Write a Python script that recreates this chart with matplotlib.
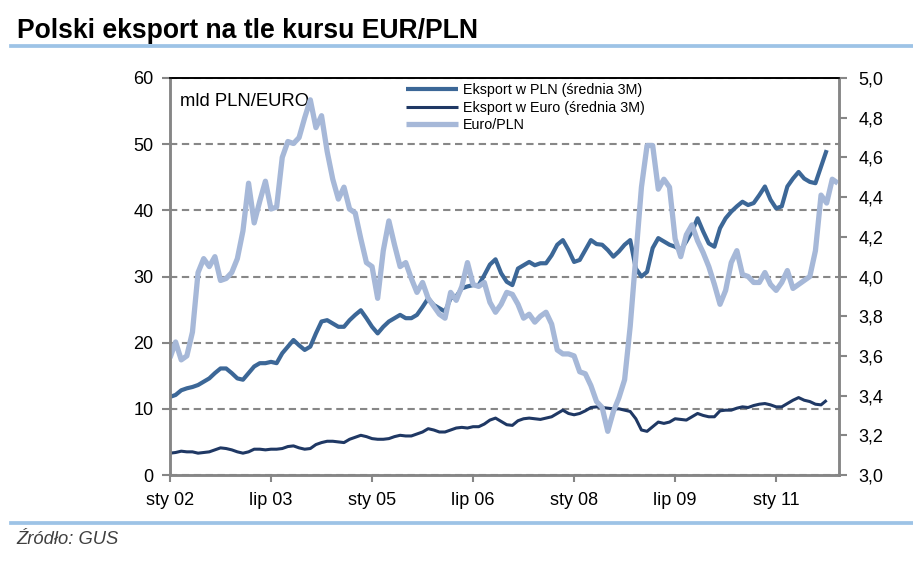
import matplotlib
matplotlib.use("Agg")
import matplotlib.pyplot as plt
from matplotlib.lines import Line2D
import numpy as np

plt.rcParams['font.family'] = ['Liberation Sans', 'DejaVu Sans']

# ---- data (monthly, starting Jan 2002) ----
tick_labels = ["sty 02", "lip 03", "sty 05", "lip 06", "sty 08", "lip 09", "sty 11"]
tick_months = [0, 18, 36, 54, 72, 90, 108]

export_pln = [11.8, 12.1, 12.8, 13.1, 13.3, 13.6, 14.1, 14.6, 15.4, 16.1,
              16.1, 15.4, 14.6, 14.4, 15.4, 16.4, 16.9, 16.9, 17.1, 16.9,
              18.4, 19.4, 20.4, 19.6, 18.9, 19.4, 21.4, 23.2, 23.4, 22.9,
              22.4, 22.4, 23.4, 24.2, 24.9, 23.7, 22.4, 21.4, 22.4, 23.2,
              23.7, 24.2, 23.7, 23.7, 24.2, 25.4, 26.7, 25.7, 25.2, 24.7,
              26.7, 27.0, 28.2, 28.5, 28.7, 28.7, 30.2, 31.8, 32.6, 30.5,
              29.2, 28.7, 31.2, 31.7, 32.2, 31.7, 32.0, 32.0, 33.2, 34.8,
              35.5, 34.0, 32.2, 32.5, 34.0, 35.5, 34.9, 34.8, 34.0, 33.0,
              33.8, 34.8, 35.5, 31.2, 30.0, 30.7, 34.3, 35.8, 35.3, 34.8,
              34.5, 34.0, 35.3, 36.8, 38.8, 36.8, 35.0, 34.5, 37.3, 38.8,
              39.8, 40.6, 41.3, 40.8, 41.1, 42.3, 43.6, 41.6, 40.3, 40.6,
              43.6, 44.8, 45.8, 44.8, 44.3, 44.1, 46.6, 49.1]

export_eur = [3.3, 3.4, 3.6, 3.5, 3.5, 3.3, 3.4, 3.5, 3.8, 4.1,
              4.0, 3.8, 3.5, 3.3, 3.5, 3.9, 3.9, 3.8, 3.9, 3.9,
              4.0, 4.3, 4.4, 4.1, 3.9, 4.0, 4.6, 4.9, 5.1, 5.1,
              5.0, 4.9, 5.4, 5.7, 6.0, 5.8, 5.5, 5.4, 5.4, 5.5,
              5.8, 6.0, 5.9, 5.9, 6.2, 6.5, 7.0, 6.8, 6.5, 6.5,
              6.8, 7.1, 7.2, 7.1, 7.3, 7.3, 7.7, 8.3, 8.6, 8.1,
              7.6, 7.5, 8.2, 8.5, 8.6, 8.5, 8.4, 8.6, 8.8, 9.3,
              9.8, 9.3, 9.1, 9.3, 9.7, 10.2, 10.3, 10.2, 10.1, 10.0,
              10.0, 9.8, 9.6, 8.5, 6.8, 6.6, 7.3, 8.0, 7.8, 8.0,
              8.5, 8.4, 8.3, 8.8, 9.3, 9.0, 8.8, 8.8, 9.7, 9.8,
              9.8, 10.1, 10.3, 10.2, 10.5, 10.7, 10.8, 10.6, 10.3, 10.3,
              10.8, 11.3, 11.7, 11.3, 11.1, 10.7, 10.6, 11.3]

eur_pln = [3.59, 3.67, 3.58, 3.60, 3.72, 4.02, 4.09, 4.05, 4.10, 3.98,
           3.99, 4.02, 4.09, 4.23, 4.47, 4.27, 4.38, 4.48, 4.34, 4.35,
           4.60, 4.68, 4.67, 4.70, 4.80, 4.89, 4.75, 4.81, 4.63, 4.49,
           4.39, 4.45, 4.34, 4.32, 4.19, 4.07, 4.05, 3.89, 4.13, 4.28,
           4.16, 4.05, 4.07, 3.99, 3.92, 3.97, 3.89, 3.85, 3.81, 3.79,
           3.92, 3.88, 3.95, 4.07, 3.96, 3.95, 3.97, 3.87, 3.82, 3.86,
           3.92, 3.91, 3.86, 3.79, 3.81, 3.77, 3.80, 3.82, 3.76, 3.63,
           3.61, 3.61, 3.60, 3.52, 3.51, 3.45, 3.37, 3.34, 3.22, 3.32,
           3.39, 3.48, 3.75, 4.10, 4.45, 4.66, 4.66, 4.44, 4.49, 4.45,
           4.19, 4.10, 4.21, 4.26, 4.18, 4.12, 4.05, 3.96, 3.86, 3.93,
           4.07, 4.13, 4.01, 4.00, 3.97, 3.97, 4.02, 3.96, 3.93, 3.97,
           4.03, 3.94, 3.96, 3.98, 4.00, 4.13, 4.41, 4.37, 4.49, 4.47]

labels = ["Eksport w PLN (średnia 3M)", "Eksport w Euro (średnia 3M)", "Euro/PLN"]
colors = ["#3C6797", "#1F3864", "#A6B8D8"]

# ---- figure ----
W, H = 913, 561
fig = plt.figure(figsize=(W / 100, H / 100), dpi=100)
ax = fig.add_axes([170 / W, 1 - 475 / H, 669 / W, 397 / H])
ax2 = ax.twinx()

x_exp = np.arange(len(export_pln))
x_fx = np.arange(len(eur_pln))

l1, = ax.plot(x_exp, export_pln, color=colors[0], lw=3.0, solid_joinstyle='round', solid_capstyle='butt')
l2, = ax.plot(x_exp, export_eur, color=colors[1], lw=2.2, solid_joinstyle='round', solid_capstyle='butt')
l3, = ax2.plot(x_fx, eur_pln, color=colors[2], lw=3.8, solid_joinstyle='round', solid_capstyle='butt')

ax.set_xlim(0, 119.2)
ax.set_ylim(0, 60)
ax2.set_ylim(3.0, 5.0)

ax.set_yticks(np.arange(0, 61, 10))
ax.set_yticklabels([str(v) for v in range(0, 61, 10)])
rt = np.round(np.arange(3.0, 5.01, 0.2), 1)
ax2.set_yticks(rt)
ax2.set_yticklabels([f"{v:.1f}".replace(".", ",") for v in rt])
ax.set_xticks(tick_months)
ax.set_xticklabels(tick_labels)

ax.grid(axis='y', color='#878787', lw=1.5, linestyle=(0, (3.5, 2.2)))
ax.set_axisbelow(True)

gray = '#868686'
for a in (ax, ax2):
    for s in ('left', 'right', 'bottom'):
        a.spines[s].set_color(gray)
        a.spines[s].set_linewidth(1.8)
    a.spines['top'].set_color('black')
    a.spines['top'].set_linewidth(1.2)

ax.tick_params(axis='y', direction='out', length=6, width=1.5, color=gray, labelsize=13, pad=6)
ax.tick_params(axis='x', direction='out', length=5, width=1.5, color=gray, labelsize=13, pad=7)
ax2.tick_params(axis='y', direction='out', length=6, width=1.5, color=gray, labelsize=13, pad=8)

ax.text(10 / 669, (475 - 101.7) / 397, "mld PLN/EURO", transform=ax.transAxes,
        fontsize=13.3, va='center', ha='left')

leg = ax2.legend([l1, l2, l3], labels, loc='upper left',
                 bbox_to_anchor=(405 / W, 1 - 82 / H), bbox_transform=fig.transFigure,
                 frameon=False, fontsize=10.3, handlelength=3.6, handletextpad=0.35,
                 labelspacing=0.22, borderpad=0.1, borderaxespad=0)

# title and rules
fig.text(17 / W, 1 - 38 / H, "Polski eksport na tle kursu EUR/PLN", fontsize=19.1,
         fontweight='bold', ha='left', va='baseline')
fig.add_artist(Line2D([11 / W, 1.0], [1 - 46 / H, 1 - 46 / H], color='#9DC3E6', lw=2.7,
                      transform=fig.transFigure))
fig.add_artist(Line2D([11 / W, 1.0], [1 - 523 / H, 1 - 523 / H], color='#9DC3E6', lw=2.7,
                      transform=fig.transFigure))
fig.text(16 / W, 1 - 544 / H, "Źródło: GUS", fontsize=13.2, style='italic', color='#404040',
         ha='left', va='baseline')

fig.savefig("out.png", dpi=100)
